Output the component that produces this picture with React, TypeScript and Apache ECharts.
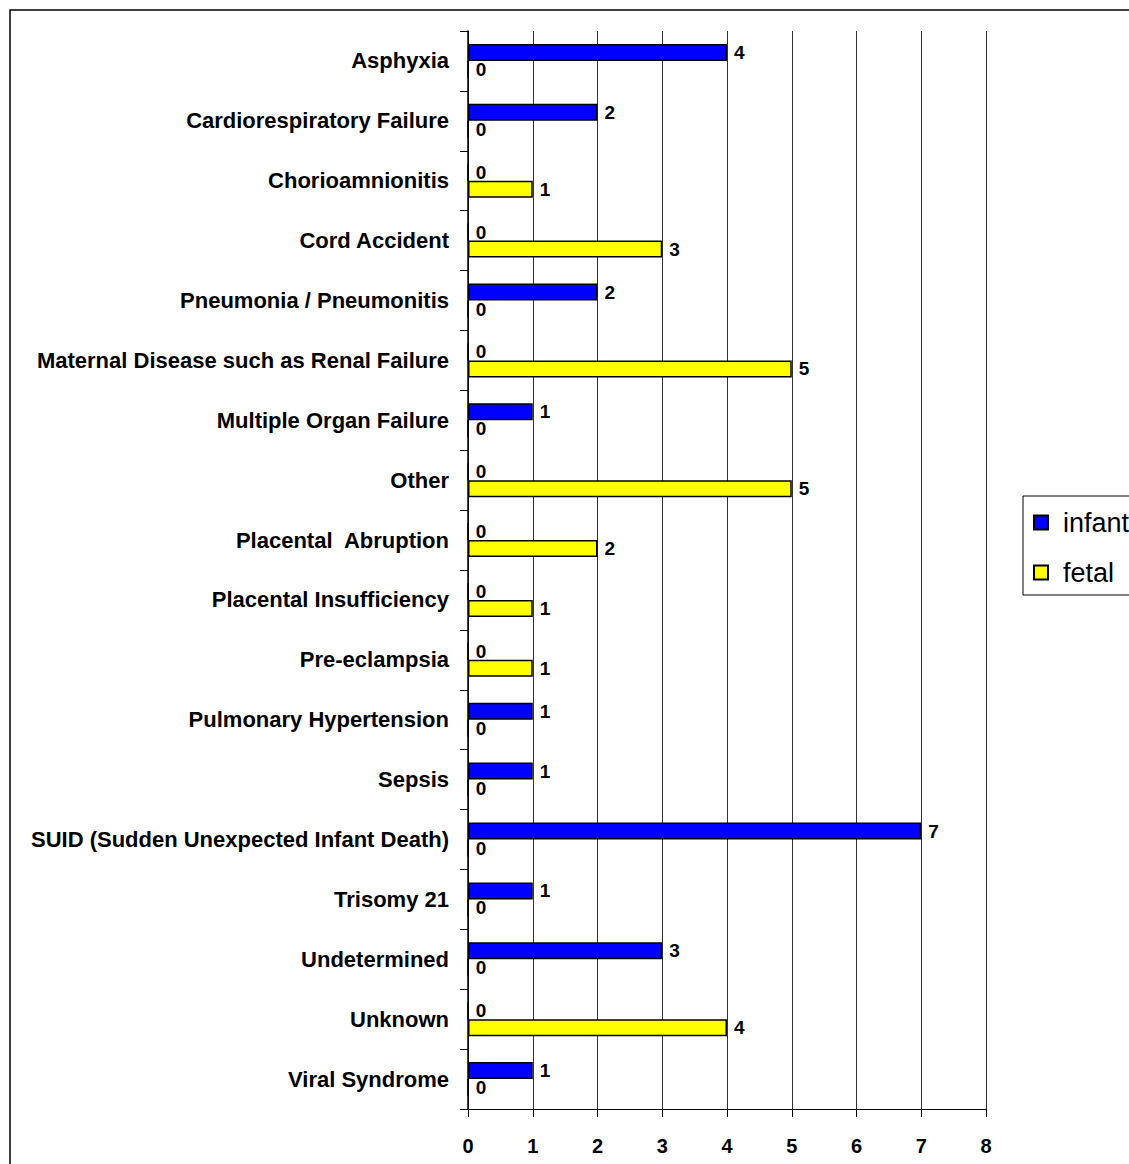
import React, { useEffect, useRef } from "react";
import * as echarts from "echarts";

const categories = [
  "Asphyxia",
  "Cardiorespiratory Failure",
  "Chorioamnionitis",
  "Cord Accident",
  "Pneumonia / Pneumonitis",
  "Maternal Disease such as Renal Failure",
  "Multiple Organ Failure",
  "Other",
  "Placental  Abruption",
  "Placental Insufficiency",
  "Pre-eclampsia",
  "Pulmonary Hypertension",
  "Sepsis",
  "SUID (Sudden Unexpected Infant Death)",
  "Trisomy 21",
  "Undetermined",
  "Unknown",
  "Viral Syndrome",
];

const infant = [4, 2, 0, 0, 2, 0, 1, 0, 0, 0, 0, 1, 1, 7, 1, 3, 0, 1];
const fetal = [0, 0, 1, 3, 0, 5, 0, 5, 2, 1, 1, 0, 0, 0, 0, 0, 4, 0];

const seriesNames = ["infant", "fetal"];
const xMin = 0;
const xMax = 8;
const xInterval = 1;

const FONT = "'Liberation Sans', Arial, sans-serif";

export default function App() {
  const ref = useRef<HTMLDivElement>(null);

  useEffect(() => {
    if (!ref.current) return;
    const chart = echarts.init(ref.current, null, { renderer: "svg" });
    const label = {
      show: true,
      position: "right",
      distance: 7,
      color: "#000",
      fontFamily: FONT,
      fontWeight: "bold",
      fontSize: 19,
    };
    chart.setOption({
      animation: false,
      backgroundColor: "#fff",
      grid: { left: 468, right: 143, top: 31, bottom: 55, containLabel: false },
      legend: {
        orient: "vertical",
        left: 1023,
        top: 496,
        borderColor: "#000",
        borderWidth: 1,
        padding: [13, 40, 9, 10],
        itemGap: 23,
        itemWidth: 14,
        itemHeight: 14,
        icon: "rect",
        textStyle: {
          fontFamily: FONT,
          fontSize: 27,
          color: "#000",
          padding: [0, 0, 0, 10],
        },
        data: seriesNames,
      },
      xAxis: {
        type: "value",
        min: xMin,
        max: xMax,
        interval: xInterval,
        axisLine: { show: true, lineStyle: { color: "#000", width: 1 } },
        axisTick: { show: true, length: 8, lineStyle: { color: "#000" } },
        splitLine: { show: true, lineStyle: { color: "#333", width: 1 } },
        axisLabel: {
          color: "#000",
          fontFamily: FONT,
          fontWeight: "bold",
          fontSize: 20,
          margin: 27,
        },
      },
      yAxis: {
        type: "category",
        inverse: true,
        data: categories,
        axisLine: { show: true, lineStyle: { color: "#000", width: 1.5 } },
        axisTick: { show: true, length: 8, interval: 0, lineStyle: { color: "#000" } },
        axisLabel: {
          interval: 0,
          color: "#000",
          fontFamily: FONT,
          fontWeight: "bold",
          fontSize: 22,
          margin: 19,
        },
      },
      graphic: [
        {
          type: "rect",
          shape: { x: 10, y: 10, width: 1300, height: 1300 },
          style: { fill: "none", stroke: "#000", lineWidth: 1.5 },
          silent: true,
          z: 100,
        },
      ],
      series: [
        {
          name: seriesNames[0],
          type: "bar",
          data: infant,
          barWidth: 17,
          barGap: "0%",
          itemStyle: { color: "#0000FF", borderColor: "#000", borderWidth: 1.5 },
          label,
        },
        {
          name: seriesNames[1],
          type: "bar",
          data: fetal,
          barWidth: 17,
          barGap: "0%",
          itemStyle: { color: "#FFFF00", borderColor: "#000", borderWidth: 1.5 },
          label,
        },
      ],
    });
    return () => chart.dispose();
  }, []);

  return (
    <div
      ref={ref}
      style={{ position: "absolute", left: 0, top: 0, width: 1129, height: 1164 }}
    />
  );
}
